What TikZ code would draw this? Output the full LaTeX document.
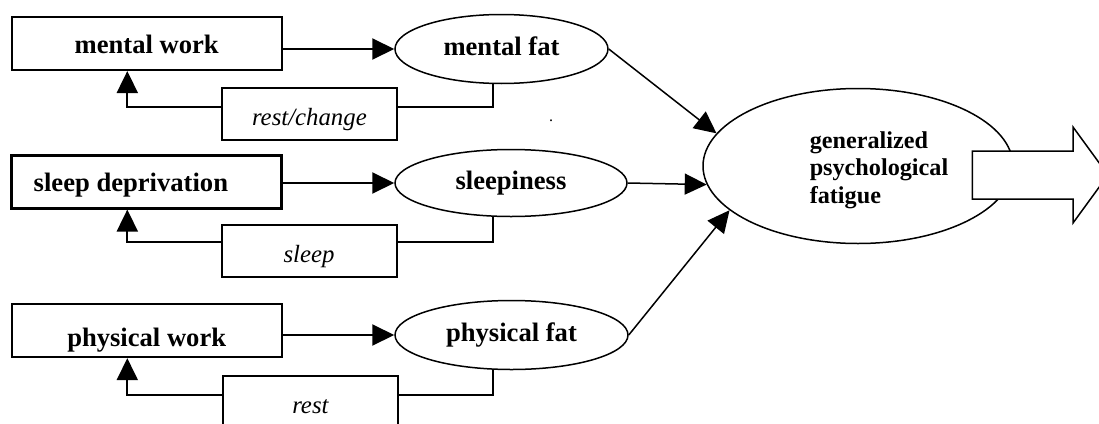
\documentclass[tikz,border=0pt]{standalone}
\usepackage{fontspec}
\setmainfont{Liberation Serif}
\usetikzlibrary{shapes,arrows.meta,positioning}
\tikzstyle{workblock}=[rectangle, draw, line width=2pt, align=center, minimum width=270pt, minimum height=52.7pt, inner sep=0pt, text height=19.2pt, text depth=0pt, font=\fontsize{26.6}{30}\selectfont\bfseries]
\tikzstyle{fatellipse}=[ellipse, draw, line width=1.5pt, inner sep=0pt, text height=18pt, text depth=6pt, font=\fontsize{26.6}{30}\selectfont\bfseries]
\tikzstyle{restblock}=[rectangle, draw, line width=2pt, minimum width=175pt, minimum height=52pt, inner sep=0pt, text height=24pt, text depth=1pt, font=\fontsize{24.8}{28}\selectfont\itshape]
\tikzstyle{genellipse}=[ellipse, draw, line width=1.5pt, inner sep=0pt, minimum width=310pt, minimum height=155pt]

\begin{document}
\begin{tikzpicture}[x=1pt, y=-1pt, >={Triangle[length=22pt,width=21pt]}]
\useasboundingbox (0,0) rectangle (1099,423);
\clip (0,0) rectangle (1099,423);

\node[workblock] (w1) at (146.7,43.7) {mental work};
\node[workblock, line width=3pt, text width=226pt, inner xsep=22pt, align=flush left] (w2) at (146.7,181.7) {sleep deprivation};
\node[workblock, text height=31.8pt] (w3) at (146.7,330.8) {physical work};
\node[fatellipse, minimum width=213pt, minimum height=69pt] (f1) at (501.5,49) {mental fat};
\node[fatellipse, minimum width=232pt, minimum height=67pt] (f2) at (511,183) {sleepiness};
\node[fatellipse, minimum width=233pt, minimum height=69pt] (f3) at (511.5,335) {physical fat};
\node[restblock] (r1) at (309.4,114.2) {rest/change};
\node[restblock] (r2) at (309,250.8) {sleep};
\node[restblock] (r3) at (310.4,402) {rest};
\node[genellipse] (g) at (858,166) {};
\node[align=left, inner sep=0pt, font=\fontsize{24.2}{27.5}\selectfont\bfseries] (glabel) at (879,170) {generalized\\psychological\\fatigue};
\node[inner sep=0pt, font=\fontsize{16}{16}\selectfont] (dot) at (551,121) {.};

\draw[->,line width=2pt] (w1.east |- f1.west) -- (f1.west);
\draw[->,line width=2pt] (w2.east |- f2.west) -- (f2.west);
\draw[->,line width=2pt] (w3.east |- f3.west) -- (f3.west);
\draw[->,line width=2pt] ([yshift=7pt]r1.west) -| ([xshift=-19.4pt]w1.south);
\draw[line width=2pt] ([yshift=7pt]r1.east) -| ([xshift=-8.5pt]f1.south);
\draw[->,line width=2pt] ([yshift=9pt]r2.west) -| ([xshift=-19.4pt]w2.south);
\draw[line width=2pt] ([yshift=9pt]r2.east) -| ([xshift=-18pt]f2.south);
\draw[->,line width=2pt] ([yshift=7.5pt]r3.west) -| ([xshift=-19.4pt]w3.south);
\draw[line width=2pt] ([yshift=7.5pt]r3.east) -| ([xshift=-18.5pt]f3.south);
\draw[->,line width=1.5pt] (f1.east) -- (g.167);
\draw[->,line width=1.5pt] (f2.east) -- (g.187);
\draw[->,line width=1.5pt] (f3.east) -- (g.199);

\draw[line width=1.5pt, fill=white] (972.3,151) -- (1073,151) -- (1073,127) -- (1108,175) -- (1073,223) -- (1073,199) -- (972.3,199) -- cycle;

\end{tikzpicture}
\end{document}
